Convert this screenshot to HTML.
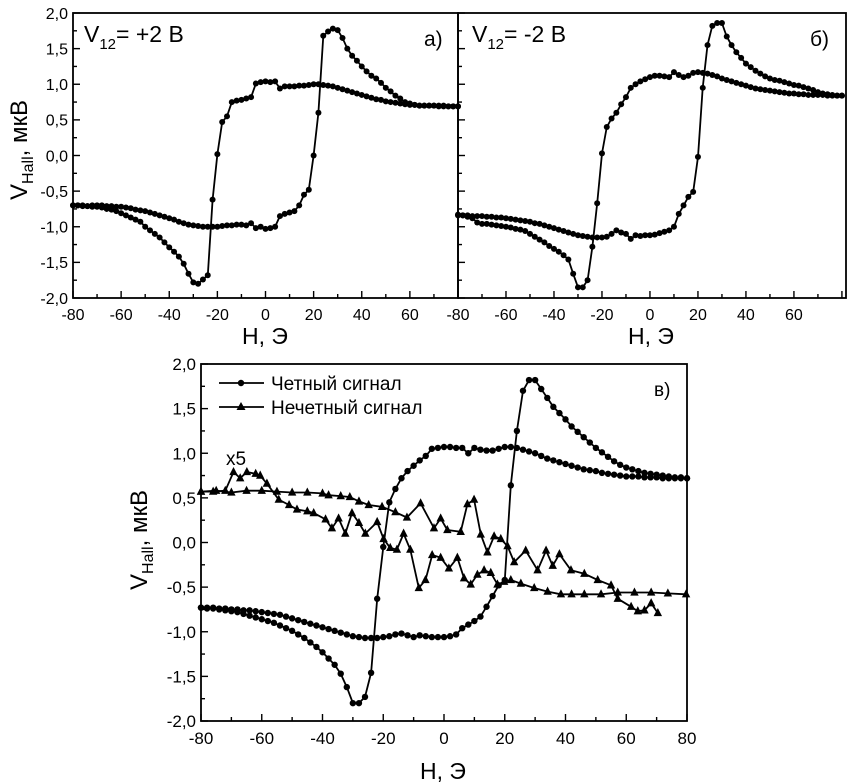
<!DOCTYPE html>
<html><head><meta charset="utf-8">
<style>
html,body{margin:0;padding:0;background:#fff;}
svg{display:block;font-family:"Liberation Sans",sans-serif;}
</style></head>
<body>
<svg id="chart" width="850" height="784" viewBox="0 0 850 784" xmlns="http://www.w3.org/2000/svg">
<rect width="850" height="784" fill="#fff"/>
</svg>
<script>
const H_GRID = [-80,-78,-76,-74,-72,-70,-68,-66,-64,-62,-60,-58,-56,-54,-52,-50,-48,-46,-44,-42,-40,-38,-36,-34,-32,-30,-28,-26,-24,-22,-20,-18,-16,-14,-12,-10,-8,-6,-4,-2,0,2,4,6,8,10,12,14,16,18,20,22,24,26,28,30,32,34,36,38,40,42,44,46,48,50,52,54,56,58,60,62,64,66,68,70,72,74,76,78,80];

const A_ASC = [-0.70,-0.70,-0.70,-0.71,-0.70,-0.70,-0.70,-0.71,-0.71,-0.72,
-0.72,-0.73,-0.74,-0.76,-0.77,-0.78,-0.80,-0.82,-0.84,-0.86,
-0.88,-0.90,-0.93,-0.95,-0.97,-0.98,-0.99,-1.00,-1.00,-1.00,
-1.00,-0.99,-0.98,-0.98,-0.97,-0.97,-0.98,-0.95,-1.02,-1.00,
-1.03,
-1.02,-1.00,-0.85,-0.82,-0.80,-0.78,-0.70,-0.55,-0.48,0.00,
0.60,1.68,1.74,1.78,1.76,1.65,1.50,1.40,1.33,1.25,
1.18,1.12,1.08,1.02,0.95,0.90,0.84,0.80,0.75,0.73,
0.71,0.70,0.70,0.70,0.70,0.70,0.70,0.69,0.69,0.69];
const A_DESC = [-0.70,-0.70,-0.71,-0.71,-0.72,-0.72,-0.73,-0.75,-0.76,-0.78,
-0.81,-0.84,-0.87,-0.90,-0.93,-1.00,-1.05,-1.10,-1.15,-1.22,
-1.29,-1.35,-1.42,-1.52,-1.66,-1.78,-1.80,-1.74,-1.68,-0.62,
0.02,0.47,0.55,0.75,0.77,0.78,0.80,0.82,1.01,1.03,
1.04,
1.03,1.04,0.94,0.97,0.97,0.97,0.98,0.98,0.99,1.00,
1.00,0.99,0.98,0.97,0.95,0.93,0.91,0.89,0.87,0.85,
0.83,0.81,0.79,0.78,0.76,0.75,0.74,0.73,0.72,0.71,
0.71,0.70,0.70,0.70,0.70,0.69,0.69,0.69,0.69,0.69];

const B_ASC = [-0.84,-0.84,-0.84,-0.85,-0.85,-0.85,-0.86,-0.86,-0.87,-0.87,
-0.88,-0.89,-0.90,-0.91,-0.92,-0.93,-0.95,-0.96,-0.98,-1.00,
-1.02,-1.04,-1.06,-1.08,-1.10,-1.12,-1.13,-1.14,-1.15,-1.15,
-1.15,-1.14,-1.10,-1.05,-1.08,-1.10,-1.17,-1.12,-1.13,-1.12,
-1.12,
-1.11,-1.09,-1.07,-1.05,-1.00,-0.82,-0.70,-0.58,-0.51,-0.02,
0.95,1.55,1.82,1.86,1.86,1.67,1.55,1.45,1.37,1.29,
1.24,1.19,1.15,1.11,1.08,1.06,1.05,1.03,1.01,0.99,
0.98,0.96,0.94,0.92,0.89,0.87,0.86,0.85,0.84,0.84];
const B_DESC = [-0.83,-0.84,-0.86,-0.88,-0.94,-0.96,-0.96,-0.97,-0.98,-0.99,
-1.00,-1.01,-1.03,-1.04,-1.06,-1.10,-1.14,-1.18,-1.22,-1.27,
-1.31,-1.35,-1.40,-1.46,-1.66,-1.85,-1.85,-1.75,-1.28,-0.67,
0.03,0.40,0.52,0.60,0.72,0.82,0.95,1.00,1.04,1.07,
1.10,
1.12,1.12,1.11,1.10,1.17,1.13,1.10,1.12,1.16,1.17,
1.16,1.15,1.13,1.11,1.08,1.06,1.04,1.02,1.00,0.98,
0.96,0.94,0.93,0.92,0.91,0.90,0.89,0.88,0.87,0.87,
0.86,0.86,0.85,0.85,0.85,0.85,0.84,0.84,0.84,0.84];

const C_EVEN_ASC = [-0.73,-0.73,-0.73,-0.74,-0.74,-0.75,-0.75,-0.76,-0.76,-0.77,
-0.78,-0.79,-0.80,-0.81,-0.83,-0.85,-0.87,-0.89,-0.91,-0.93,
-0.95,-0.97,-0.99,-1.01,-1.03,-1.05,-1.06,-1.07,-1.07,-1.07,
-1.06,-1.05,-1.03,-1.02,-1.04,-1.06,-1.04,-1.05,-1.06,-1.06,
-1.06,
-1.05,-1.03,-0.96,-0.92,-0.88,-0.83,-0.72,-0.60,-0.48,-0.42,
0.64,1.25,1.70,1.82,1.82,1.72,1.62,1.52,1.45,1.38,
1.30,1.24,1.18,1.12,1.06,1.01,0.96,0.91,0.87,0.84,
0.82,0.80,0.78,0.77,0.76,0.75,0.74,0.73,0.73,0.72];
const C_EVEN_DESC = [-0.73,-0.74,-0.74,-0.75,-0.76,-0.77,-0.78,-0.80,-0.82,-0.84,
-0.86,-0.88,-0.90,-0.93,-0.96,-0.99,-1.03,-1.07,-1.12,-1.17,
-1.23,-1.30,-1.37,-1.47,-1.62,-1.80,-1.80,-1.73,-1.46,-0.63,
-0.05,0.45,0.60,0.72,0.80,0.86,0.92,0.97,1.05,1.06,
1.07,
1.07,1.06,1.06,1.00,1.06,1.04,1.03,1.03,1.05,1.07,
1.07,1.06,1.04,1.02,1.00,0.97,0.94,0.92,0.90,0.88,
0.86,0.84,0.82,0.81,0.80,0.78,0.77,0.76,0.75,0.74,
0.74,0.74,0.73,0.73,0.73,0.72,0.72,0.72,0.72,0.72];

const ODD1_H = [-80,-76,-72,-69.3,-67.1,-64.9,-62,-60.5,-58.3,-54.4,-51,-48.4,-45,-42.9,-39,-36.9,-34.7,-32.5,-30.3,-28,-25.9,-22,-19.9,-17.7,-15.5,-13.3,-11.1,-8.3,-6.1,-3.9,-1.1,1.6,4.4,6.6,8.8,11,13.2,15.4,17.6,19.8,22,25.3,29.7,34.1,38.5,42,46.2,51.7,57.2,62.7,68.2,73.7,79.7];
const ODD1_V = [0.57,0.57,0.58,0.79,0.72,0.79,0.77,0.75,0.66,0.48,0.42,0.37,0.35,0.33,0.26,0.16,0.27,0.10,0.33,0.22,0.10,0.23,0.04,-0.06,-0.08,0.10,-0.08,-0.51,-0.42,-0.14,-0.17,-0.29,-0.17,-0.40,-0.47,-0.36,-0.31,-0.34,-0.47,-0.44,-0.42,-0.46,-0.51,-0.55,-0.58,-0.58,-0.58,-0.58,-0.56,-0.56,-0.56,-0.57,-0.58];
const ODD2_H = [-80,-75,-70,-65,-60,-55,-50,-45,-40,-38,-34,-31,-28,-24.8,-20.4,-16,-12.2,-7.7,-3.3,-1.1,1.1,5.5,7.7,9.9,12.1,14.3,16.5,18.7,20.9,23.1,26.9,30.8,33.6,35.8,38,41.8,46.2,50.6,55,57.2,61.6,63.8,66,68.2,70.4];
const ODD2_V = [0.57,0.58,0.56,0.58,0.58,0.57,0.56,0.56,0.55,0.53,0.52,0.51,0.46,0.42,0.40,0.34,0.28,0.44,0.16,0.27,0.14,0.12,0.43,0.48,0.09,-0.11,0.07,0.04,-0.04,-0.22,-0.09,-0.31,-0.09,-0.26,-0.13,-0.31,-0.35,-0.42,-0.48,-0.63,-0.72,-0.77,-0.76,-0.68,-0.79];

const X_TICKS = [-80,-60,-40,-20,0,20,40,60,80];
const Y_TICKS = [2.0,1.5,1.0,0.5,0.0,-0.5,-1.0,-1.5,-2.0];
const Y_LABELS = ["2,0","1,5","1,0","0,5","0,0","-0,5","-1,0","-1,5","-2,0"];

const NS = "http://www.w3.org/2000/svg";
const svg = document.getElementById('chart');
function mk(tag, attrs, parent){
  const e = document.createElementNS(NS, tag);
  for (const k in attrs) e.setAttribute(k, attrs[k]);
  (parent||svg).appendChild(e);
  return e;
}

function panel(name, g){
  const grp = mk('g', {});
  
  
  const sx = h => g.x0 + (h - g.xmin) / (g.xmax - g.xmin) * (g.x1 - g.x0);
  const sy = v => g.y1 - (v + 2) / 4 * (g.y1 - g.y0);
  const frame = mk('rect', {x:g.x0, y:g.y0, width:g.x1-g.x0, height:g.y1-g.y0, fill:'none', stroke:'#000', 'stroke-width':1.8}, grp);
  
  
  for (let h = -80; h <= g.xmax; h += 10){
    const major = (h % 20 === 0);
    const x = sx(h);
    mk('line', {x1:x, x2:x, y1:g.y1, y2:g.y1 - (major?7:4), stroke:'#000', 'stroke-width':1.4}, grp);
  }
  for (let v = -2; v <= 2.001; v += 0.25){
    const major = Math.abs(v*2 - Math.round(v*2)) < 1e-6;
    const y = sy(v);
    mk('line', {x1:g.x0, x2:g.x0 + (major?7:4), y1:y, y2:y, stroke:'#000', 'stroke-width':1.4}, grp);
  }
  X_TICKS.forEach(h => {
    if (h > g.xmax || (g.skipX && g.skipX.includes(h))) return;
    const t = mk('text', {x:sx(h), y:g.y1 + g.fs + 6, 'text-anchor':'middle', 'font-size':g.fs, fill:'#000'}, grp);
    t.textContent = String(h);
    
    
  });
  if (g.yLabels){
    Y_TICKS.forEach((v,i) => {
      const t = mk('text', {x:g.x0 - 5, y:sy(v) + g.fs*0.36, 'text-anchor':'end', 'font-size':g.fs, fill:'#000'}, grp);
      t.textContent = Y_LABELS[i];
      
      
    });
  }
  return {grp, sx, sy};
}

function series(p, name, hs, vs, marker, r){
  const sg = mk('g', {}, p.grp);
  
  
  let d = '';
  hs.forEach((h,i) => { d += (i?'L':'M') + p.sx(h).toFixed(1) + ' ' + p.sy(vs[i]).toFixed(1); });
  mk('path', {d, fill:'none', stroke:'#000', 'stroke-width':1.8}, sg);
  hs.forEach((h,i) => {
    const x = p.sx(h), y = p.sy(vs[i]);
    let m;
    if (marker === 'circle') m = mk('circle', {cx:x, cy:y, r:r, fill:'#000'}, sg);
    else m = mk('polygon', {points:`${x},${y-r*1.2} ${x-r},${y+r*0.75} ${x+r},${y+r*0.75}`, fill:'#000'}, sg);
    
    
  });
}

function txt(name, x, y, s, size, extra){
  const t = mk('text', Object.assign({x, y, 'font-size':size, fill:'#000'}, extra||{}));
  t.textContent = s;
  
  
  return t;
}

// Panel a
const pa = panel('panel-a', {x0:73, x1:458, y0:13, y1:298, xmin:-80, xmax:80, fs:16, yLabels:true, skipX:[80]});
series(pa, 'panel-a-ascending', H_GRID, A_ASC, 'circle', 3);
series(pa, 'panel-a-descending', H_GRID, A_DESC, 'circle', 3);
// Panel b
const pb = panel('panel-b', {x0:458, x1:846, y0:13, y1:298, xmin:-80, xmax:81.7, fs:16, yLabels:false, skipX:[80]});
series(pb, 'panel-b-ascending', H_GRID, B_ASC, 'circle', 3);
series(pb, 'panel-b-descending', H_GRID, B_DESC, 'circle', 3);
// Panel c
const pc = panel('panel-c', {x0:201, x1:687, y0:364, y1:721, xmin:-80, xmax:80, fs:17, yLabels:true});
series(pc, 'even-signal-ascending', H_GRID, C_EVEN_ASC, 'circle', 3.2);
series(pc, 'even-signal-descending', H_GRID, C_EVEN_DESC, 'circle', 3.2);
series(pc, 'odd-signal-branch-1', ODD1_H, ODD1_V, 'tri', 4.2);
series(pc, 'odd-signal-branch-2', ODD2_H, ODD2_V, 'tri', 4.2);

// Annotations
const va = txt('panel-a-voltage-label', 84, 42, 'V', 23);
const s1 = mk('tspan', {dy:7, 'font-size':15}, va); s1.textContent = '12';
const s2 = mk('tspan', {dy:-7}, va); s2.textContent = '= +2 В';
const vb = txt('panel-b-voltage-label', 472, 42, 'V', 23);
const s3 = mk('tspan', {dy:7, 'font-size':15}, vb); s3.textContent = '12';
const s4 = mk('tspan', {dy:-7}, vb); s4.textContent = '= -2 В';
txt('panel-a-letter', 424, 46, 'а)', 21);
txt('panel-b-letter', 810, 46, 'б)', 21);
txt('panel-c-letter', 654, 396, 'в)', 19);
txt('x5-annotation', 226, 465, 'x5', 19);

txt('panel-a-x-axis-title', 265, 344, 'H, Э', 23, {'text-anchor':'middle'});
txt('panel-b-x-axis-title', 651, 344, 'H, Э', 23, {'text-anchor':'middle'});
txt('panel-c-x-axis-title', 443, 779, 'H, Э', 23, {'text-anchor':'middle'});

function ytitle(name, x, y){
  const t = txt(name, x, y, 'V', 24, {'text-anchor':'middle', transform:`rotate(-90 ${x} ${y})`});
  const a = mk('tspan', {dy:6, 'font-size':16}, t); a.textContent = 'Hall';
  const b = mk('tspan', {dy:-6}, t); b.textContent = ', мкВ';
}
ytitle('panel-a-y-axis-title', 27, 150);
ytitle('panel-c-y-axis-title', 147, 540);

// Legend
const lg = mk('g', {});


mk('line', {x1:219, x2:264, y1:383, y2:383, stroke:'#000', 'stroke-width':1.8}, lg);
mk('circle', {cx:241, cy:383, r:3.2, fill:'#000'}, lg);
mk('line', {x1:219, x2:264, y1:407, y2:407, stroke:'#000', 'stroke-width':1.8}, lg);
mk('polygon', {points:'241,402 236.5,410 245.5,410', fill:'#000'}, lg);
const l1 = mk('text', {x:271, y:390, 'font-size':19, fill:'#000'}, lg); l1.textContent = 'Четный сигнал';


const l2 = mk('text', {x:271, y:414, 'font-size':19, fill:'#000'}, lg); l2.textContent = 'Нечетный сигнал';


</script>
</body></html>
